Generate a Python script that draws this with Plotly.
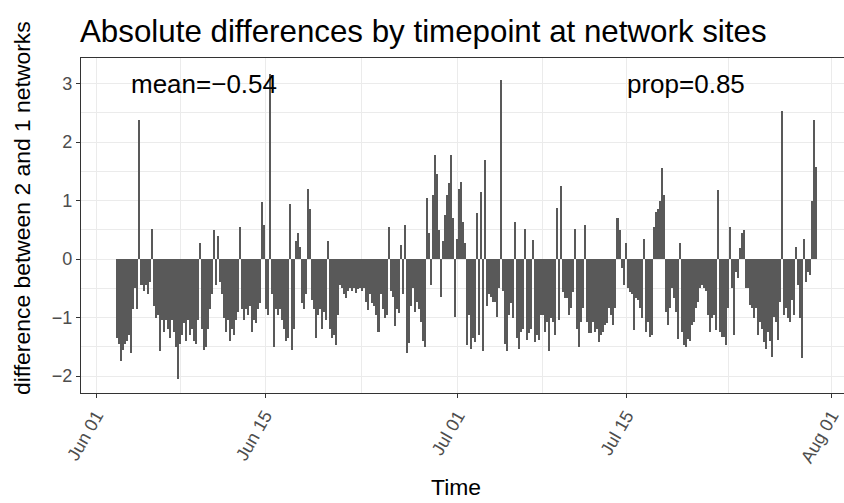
import pandas as pd
import plotly.graph_objects as go

# ---- data: difference (2 vs 1 networks), 4-hourly ----
start_time = "2019-06-02 16:00"
step_hours = 4

diff_jun02_jun08 = [
    -1.35, -1.45,
    -1.75, -1.55, -1.45, -1.4, -1.3, -1.6,
    -0.85, -0.5, -0.85, 2.38, -0.45, -0.55,
    -0.45, -0.6, -0.4, 0.52, -0.8, -1.0,
    -0.95, -1.58, -1.05, -1.25, -1.05, -1.2,
    -1.35, -1.05, -1.25, -1.5, -2.05, -1.45,
    -1.3, -1.1, -1.4, -1.05, -1.3, -1.2,
]
diff_jun09_jun15 = [
    -1.4, -1.45, -1.05, 0.27, -1.2, -1.55,
    -1.5, -1.2, -0.85, -0.6, 0.5, -0.45,
    0.4, -0.4, -0.6, -1.0, -1.25, -1.05,
    -1.4, -1.2, -1.3, -1.05, -0.9, 0.55,
    -0.85, -1.05, -0.85, -0.95, -0.8, -1.25,
    -1.05, -1.1, -0.85, -0.75, 0.98, 0.58,
    -0.85, -0.95, 3.17, -0.6, -1.5, -0.85,
]
diff_jun16_jun22 = [
    -0.95, -0.85, -1.05, -1.2, -1.4, -1.35,
    0.94, -1.55, -1.2, 0.3, 0.45, 0.2,
    -0.75, -0.85, -0.6, 1.2, 0.85, -0.7,
    -0.85, -1.35, -0.95, -0.85, -1.2, -0.9,
    -1.05, 0.3, -1.2, -1.35, -1.3, -1.47,
    -0.95, -0.45, -0.5, -0.6, -0.67, -0.55,
    -0.5, -0.55, -0.5, -0.58, -0.52, -0.5,
]
diff_jun23_jun29 = [
    -0.55, -0.5, -0.73, -0.87, -0.6, -0.75,
    -0.8, -0.95, -1.25, -0.6, -0.85, -1.0,
    -0.95, 0.55, -0.55, -0.65, -1.15, -0.85,
    -0.93, 0.24, -0.6, 0.58, -1.61, -1.44,
    -0.8, -0.5, -0.9, -0.73, -0.85, -1.07,
    -1.4, -1.5, 1.04, 0.45, -0.45, 1.1,
    1.78, 1.45, 0.5, -0.65, 0.3, 0.75,
]
diff_jun30_jul06 = [
    1.1, 1.3, 1.78, 0.7, -0.99, 0.35,
    1.2, 1.32, 0.64, 0.27, -1.47, -0.96,
    -1.53, -1.35, -1.41, 0.78, -1.3, 1.15,
    -1.58, 1.69, -0.8, -0.6, -0.65, -0.73,
    -0.73, -0.99, -0.5, 3.06, -0.55, -1.45,
    -1.58, -0.96, -0.75, -1.0, 0.64, -1.35,
    -1.53, -1.24, -1.19, 0.52, -1.38, -1.27,
]
diff_jul07_jul13 = [
    -1.2, 0.32, -1.41, -1.3, -1.38, -0.96,
    -0.95, -1.24, -1.07, -1.58, -1.0, -1.07,
    -1.3, 0.87, -1.05, 1.24, -0.56, -0.67,
    -0.67, -0.96, -0.84, -0.56, 0.52, -1.19,
    -1.5, -1.07, -0.84, 0.58, -1.07, -1.27,
    -1.27, -1.07, -1.24, -1.2, -1.41, -1.3,
    -1.24, -1.13, -1.1, -0.84, -0.96, -1.13,
]
diff_jul14_jul20 = [
    -0.84, 0.7, 0.5, -0.16, -0.45, 0.27,
    -0.5, -0.56, -0.6, -1.21, -0.67, -0.7,
    -0.84, -1.0, 0.35, -1.24, -1.07, -1.33,
    -1.3, 0.55, 0.81, 0.86, 1.0, 1.55,
    1.1, -0.9, -1.13, -0.84, -0.5, -0.67,
    -0.9, -1.36, 0.27, -1.24, -1.47, -1.5,
    -1.36, -1.4, -1.13, -1.07, -0.84, -0.73,
]
diff_jul21_jul27 = [
    -0.5, -0.45, -0.5, -0.55, -0.96, -1.24,
    -1.0, -0.95, -1.21, 1.18, -1.24, -1.33,
    -1.33, -1.47, -0.84, 0.55, -0.5, -1.3,
    -0.22, -0.33, 0.18, 0.45, 0.5, -0.5,
    -0.5, -0.79, -0.84, -1.01, -0.84, -1.3,
    -1.07, -1.2, -1.41, -1.53, -1.24, -1.4,
    -1.67, -0.99, -1.07, -1.38, -0.73, 2.53,
]
diff_jul28_jul30 = [
    -0.96, -0.84, -1.0, -1.07, -0.7, -0.96,
    0.21, -0.45, -1.0, -1.7, 0.35, -0.39,
    -0.22, -0.27, 1.0, 2.38, 1.58,
]

x_tick_dates = ["2019-06-01", "2019-06-15", "2019-07-01", "2019-07-15", "2019-08-01"]
x_tick_labels = ["Jun 01", "Jun 15", "Jul 01", "Jul 15", "Aug 01"]
x_minor_dates = ["2019-06-08", "2019-06-23", "2019-07-08", "2019-07-23 12:00"]
y_tick_vals = [-2, -1, 0, 1, 2, 3]
y_tick_labels = ["\u22122", "\u22121", "0", "1", "2", "3"]
y_minor_vals = [-1.5, -0.5, 0.5, 1.5, 2.5]
mean_label = "mean=\u22120.54"
prop_label = "prop=0.85"

values = (diff_jun02_jun08 + diff_jun09_jun15 + diff_jun16_jun22 + diff_jun23_jun29
          + diff_jun30_jul06 + diff_jul07_jul13 + diff_jul14_jul20 + diff_jul21_jul27
          + diff_jul28_jul30)
times = pd.date_range(start_time, periods=len(values), freq=f"{step_hours}h") + pd.Timedelta(hours=step_hours / 2)

W, H = 844, 503
ml, mr, mt, mb = 81, 0, 58, 110
pw = W - ml - mr
ph = H - mt - mb

fig = go.Figure(go.Bar(
    x=times, y=values,
    width=step_hours * 3600 * 1000,
    marker=dict(color="#595959", line=dict(width=0)),
    hoverinfo="x+y",
))

x_lo = pd.Timestamp("2019-06-01") - pd.Timedelta(days=1.27)
x_hi = pd.Timestamp("2019-08-01") + pd.Timedelta(days=1.046)

axis_font = dict(family="Liberation Sans, Arial, sans-serif", size=18, color="#4D4D4D")

fig.update_layout(
    width=W, height=H,
    margin=dict(l=ml, r=mr, t=mt, b=mb, pad=0),
    paper_bgcolor="white", plot_bgcolor="white",
    showlegend=False, bargap=0,
    font=dict(family="Liberation Sans, Arial, sans-serif", color="black"),
    title=dict(text="Absolute differences by timepoint at network sites",
               x=80 / W, xanchor="left", y=1 - 31 / H, yanchor="middle",
               font=dict(size=31.3, color="black")),
    xaxis=dict(
        type="date", range=[x_lo, x_hi],
        tickmode="array", tickvals=x_tick_dates, ticktext=x_tick_labels,
        tickangle=-60, tickfont=axis_font,
        ticks="outside", ticklen=4, tickwidth=1, tickcolor="#333333",
        showline=True, linecolor="#333333", linewidth=1.2, mirror=True,
        showgrid=True, gridcolor="#EBEBEB", gridwidth=1.1,
        minor=dict(tickvals=x_minor_dates, showgrid=True, gridcolor="#EBEBEB",
                   gridwidth=0.55, ticks=""),
        zeroline=False,
    ),
    yaxis=dict(
        range=[-2.29, 3.436],
        tickmode="array", tickvals=y_tick_vals, ticktext=y_tick_labels,
        tickfont=axis_font,
        ticks="outside", ticklen=4, tickwidth=1, tickcolor="#333333",
        showline=True, linecolor="#333333", linewidth=1.2, mirror=False,
        showgrid=True, gridcolor="#EBEBEB", gridwidth=1.1,
        minor=dict(tickvals=y_minor_vals, showgrid=True, gridcolor="#EBEBEB",
                   gridwidth=0.55, ticks=""),
        zeroline=False,
    ),
    annotations=[
        dict(text=mean_label, x=pd.Timestamp("2019-06-09 22:30"), y=3,
             xref="x", yref="y", xanchor="center", yanchor="middle",
             showarrow=False, font=dict(size=26, color="black")),
        dict(text=prop_label, x=pd.Timestamp("2019-07-19 22:20"), y=3,
             xref="x", yref="y", xanchor="center", yanchor="middle",
             showarrow=False, font=dict(size=26, color="black")),
        dict(text="difference between 2 and 1 networks", textangle=-90,
             x=(22 - ml) / pw, y=(mt + ph - 208) / ph, xref="paper", yref="paper",
             xanchor="center", yanchor="middle", showarrow=False,
             font=dict(size=22.9, color="black")),
        dict(text="Time", x=(456 - ml) / pw, y=(mt + ph - 487) / ph,
             xref="paper", yref="paper", xanchor="center", yanchor="middle",
             showarrow=False, font=dict(size=22.9, color="black")),
    ],
)

fig.write_html("out.html")
